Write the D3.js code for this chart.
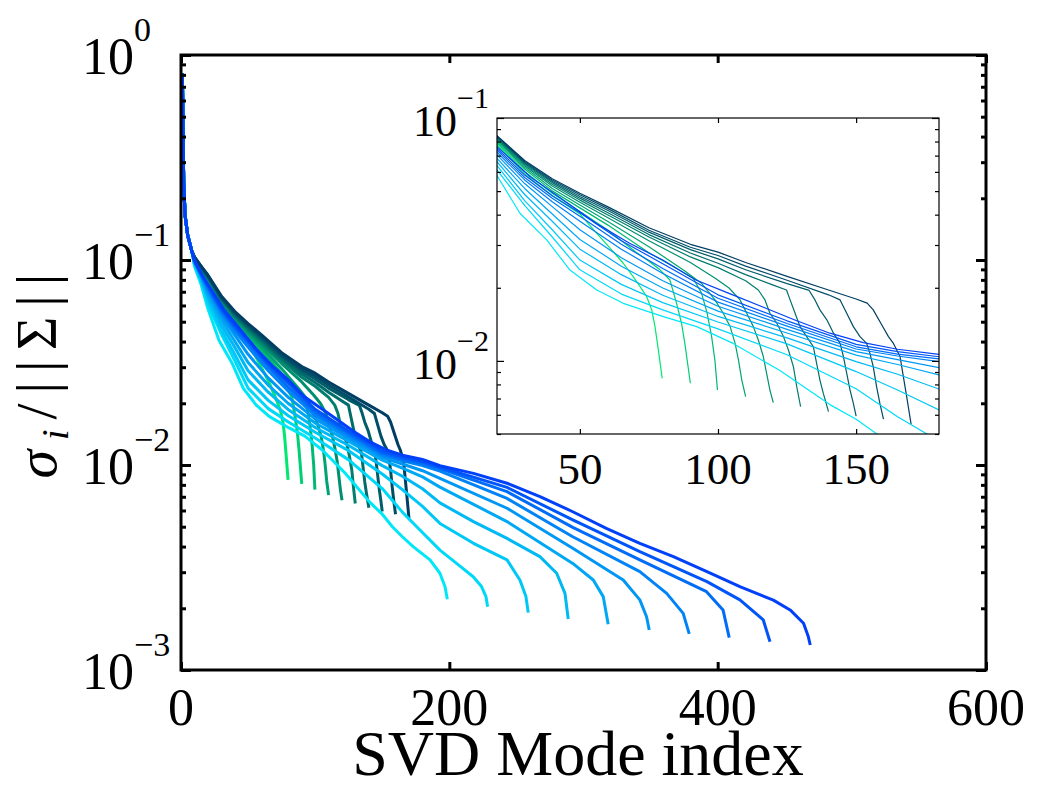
<!DOCTYPE html>
<html>
<head>
<meta charset="utf-8">
<script src="https://cdn.jsdelivr.net/npm/d3@7"></script>
<style>
  body { margin: 0; background: #fff; }
  text { font-family: "Liberation Serif", "Times New Roman", serif; fill: #000; }
</style>
</head>
<body>
<div id="chart"></div>
<script>
// tick values
var modeTicks = [0, 200, 400, 600];
var insetModeTicks = [50, 100, 150];
var decadeTicks = [1e-3, 1e-2, 1e-1, 1];
var insetDecades = [1e-2, 1e-1];

// all runs share the first few modes; values are log10(sigma_i/||Sigma||)
var headPoints = [[1, -0.09], [2, -0.62], [3, -0.78], [5, -0.88], [8, -0.955]];

// green/navy family, number of modes 80..170
var greenEnds = [80, 90, 100, 110, 120, 130, 140, 150, 160, 170];
var greenRuns = [
  [[10,-0.998],[15,-1.053],[20,-1.11],[30,-1.23],[40,-1.32],[50,-1.395],[55,-1.461],[61,-1.537],[65.7,-1.598],[69.3,-1.653],[71.8,-1.694],[74.2,-1.736],[76,-1.79],[77.2,-1.859],[78.4,-1.955],[79.8,-2.072]],
  [[10,-0.996],[15,-1.05],[20,-1.103],[30,-1.22],[40,-1.31],[50,-1.385],[60,-1.46],[70,-1.55],[75,-1.59],[79,-1.625],[82.6,-1.667],[85,-1.763],[86.8,-1.845],[88,-1.928],[89,-2.01],[90,-2.092]],
  [[10,-0.994],[15,-1.046],[20,-1.097],[30,-1.21],[40,-1.30],[50,-1.37],[60,-1.44],[75,-1.555],[85,-1.62],[91,-1.66],[94,-1.72],[96,-1.80],[97.7,-1.90],[98.9,-2.0],[99.8,-2.12]],
  [[10,-0.992],[15,-1.043],[20,-1.092],[30,-1.203],[40,-1.29],[50,-1.358],[60,-1.425],[75,-1.53],[88,-1.63],[94,-1.68],[98.9,-1.749],[101.9,-1.804],[104.4,-1.859],[106.2,-1.928],[107.4,-1.996],[108.6,-2.078],[110,-2.147]],
  [[10,-0.99],[15,-1.04],[20,-1.088],[30,-1.197],[40,-1.28],[50,-1.347],[60,-1.41],[75,-1.505],[90,-1.595],[99,-1.66],[104,-1.70],[108,-1.749],[110.4,-1.804],[112.8,-1.859],[114.6,-1.914],[116.4,-1.982],[117.6,-2.051],[118.8,-2.12],[120,-2.172]],
  [[10,-0.989],[15,-1.038],[20,-1.084],[30,-1.192],[40,-1.273],[50,-1.338],[60,-1.398],[75,-1.49],[90,-1.572],[100,-1.616],[110,-1.67],[114.6,-1.708],[117,-1.749],[118.8,-1.804],[121.3,-1.845],[123.7,-1.90],[125.5,-1.955],[127.3,-2.024],[128.5,-2.106],[129.9,-2.188]],
  [[10,-0.988],[15,-1.036],[20,-1.081],[30,-1.187],[40,-1.266],[50,-1.33],[60,-1.389],[75,-1.48],[90,-1.556],[100,-1.598],[110,-1.645],[120,-1.688],[124.8,-1.708],[126.1,-1.749],[127.9,-1.804],[129.7,-1.859],[132.1,-1.90],[134.5,-1.941],[135.7,-2.01],[136.9,-2.079],[138.1,-2.133],[140,-2.209]],
  [[10,-0.987],[15,-1.034],[20,-1.078],[30,-1.183],[40,-1.26],[50,-1.323],[60,-1.38],[75,-1.47],[90,-1.542],[100,-1.58],[110,-1.625],[125,-1.682],[133,-1.71],[135.1,-1.749],[136.9,-1.79],[139.4,-1.831],[141.8,-1.886],[144.2,-1.928],[145.4,-1.982],[146.6,-2.051],[147.8,-2.12],[149,-2.175],[150,-2.227]],
  [[10,-0.986],[15,-1.032],[20,-1.076],[30,-1.179],[40,-1.255],[50,-1.316],[60,-1.372],[75,-1.462],[90,-1.532],[100,-1.566],[110,-1.61],[125,-1.668],[140,-1.728],[144.2,-1.749],[146.6,-1.804],[149,-1.859],[151.4,-1.90],[153.8,-1.928],[155,-1.969],[156.2,-2.024],[157.4,-2.106],[158.6,-2.175],[159.9,-2.24]],
  [[10,-0.985],[15,-1.03],[20,-1.073],[30,-1.175],[40,-1.25],[50,-1.31],[60,-1.365],[75,-1.452],[90,-1.52],[100,-1.552],[110,-1.595],[125,-1.652],[140,-1.708],[150,-1.745],[154,-1.762],[156.2,-1.79],[159.3,-1.852],[161.7,-1.90],[163.5,-1.928],[165.9,-1.982],[167.1,-2.065],[168.3,-2.147],[169.9,-2.26]]
];

// cyan/blue family, number of modes 200..470
var blueEnds = [200, 230, 260, 290, 320, 350, 380, 410, 440, 470];
var blueRuns = [
  [[10,-1.03],[15,-1.12],[20,-1.237],[28.3,-1.392],[38,-1.502],[46.4,-1.626],[56.1,-1.708],[65.7,-1.763],[80.2,-1.818],[92.3,-1.859],[105.5,-1.928],[122.4,-2.04],[140.5,-2.18],[150,-2.24],[157.4,-2.30],[165,-2.35],[173,-2.398],[185.6,-2.463],[193,-2.528],[196.8,-2.594],[198.5,-2.655]],
  [[10,-1.018],[15,-1.105],[20,-1.214],[30,-1.36],[40,-1.49],[50,-1.625],[65,-1.725],[80,-1.79],[100,-1.868],[125,-1.975],[150,-2.115],[165,-2.23],[175.5,-2.30],[193,-2.415],[205.4,-2.48],[217.8,-2.545],[224,-2.593],[227.3,-2.642],[228.5,-2.691]],
  [[10,-1.015],[15,-1.095],[20,-1.196],[30,-1.34],[40,-1.46],[50,-1.585],[65,-1.685],[80,-1.76],[100,-1.84],[125,-1.93],[150,-2.044],[165,-2.12],[180,-2.202],[193,-2.285],[218,-2.382],[243,-2.463],[252.6,-2.561],[257.1,-2.642],[258.8,-2.72]],
  [[10,-1.012],[15,-1.088],[20,-1.18],[30,-1.315],[40,-1.425],[50,-1.54],[65,-1.645],[80,-1.73],[100,-1.817],[125,-1.905],[150,-2.003],[165,-2.055],[180,-2.116],[193,-2.185],[218,-2.276],[243,-2.358],[267.5,-2.447],[280,-2.528],[286.2,-2.626],[288.6,-2.751]],
  [[10,-1.01],[15,-1.082],[20,-1.166],[30,-1.29],[40,-1.395],[50,-1.50],[65,-1.61],[80,-1.70],[100,-1.795],[125,-1.885],[150,-1.976],[165,-2.015],[180,-2.058],[193,-2.108],[243,-2.276],[292,-2.48],[307.3,-2.561],[314.7,-2.642],[318.4,-2.777]],
  [[10,-1.008],[15,-1.077],[20,-1.152],[30,-1.27],[40,-1.365],[50,-1.46],[65,-1.575],[80,-1.67],[100,-1.775],[125,-1.87],[150,-1.962],[165,-1.995],[180,-2.028],[193,-2.065],[243,-2.211],[292,-2.406],[329.6,-2.561],[342,-2.658],[347,-2.74],[349,-2.805]],
  [[10,-1.006],[15,-1.073],[20,-1.141],[30,-1.255],[40,-1.345],[50,-1.425],[65,-1.54],[80,-1.64],[100,-1.758],[125,-1.857],[150,-1.951],[165,-1.98],[180,-2.003],[193,-2.03],[243,-2.163],[292,-2.35],[342,-2.52],[362,-2.626],[374.3,-2.724],[378.8,-2.824]],
  [[10,-1.004],[15,-1.07],[20,-1.132],[30,-1.245],[40,-1.33],[50,-1.405],[65,-1.52],[80,-1.62],[100,-1.742],[125,-1.846],[150,-1.942],[165,-1.972],[180,-1.992],[193,-2.018],[243,-2.13],[292,-2.304],[342,-2.463],[391.7,-2.618],[404,-2.707],[408.6,-2.842]],
  [[10,-1.002],[15,-1.068],[20,-1.125],[30,-1.235],[40,-1.32],[50,-1.39],[65,-1.505],[80,-1.60],[100,-1.728],[125,-1.835],[150,-1.932],[165,-1.962],[180,-1.983],[193,-2.01],[243,-2.109],[292,-2.268],[342,-2.423],[392,-2.569],[416.6,-2.658],[434,-2.756],[439,-2.862]],
  [[10,-1.0],[15,-1.065],[20,-1.118],[32,-1.242],[44,-1.338],[56,-1.434],[68,-1.516],[80,-1.585],[92,-1.667],[104,-1.722],[116,-1.777],[128.5,-1.835],[140.5,-1.886],[152.6,-1.925],[165,-1.952],[180,-1.973],[193,-2.003],[218,-2.041],[243,-2.089],[268,-2.155],[292,-2.228],[317,-2.309],[342,-2.382],[367,-2.447],[392,-2.52],[417,-2.594],[429,-2.626],[441.5,-2.659],[454,-2.707],[464,-2.772],[467.6,-2.838],[469,-2.878]]
];

var greenColors = ["#00e870", "#00d074", "#00b974", "#00a472", "#009070", "#007e6e", "#006d6c", "#005d6a", "#004d68", "#003e64"];
var blueColors = ["#00e8f8", "#00d8f8", "#00c8f6", "#00b8f4", "#00a8f4", "#0097f4", "#0083f6", "#006cf8", "#0055f8", "#0040f8"];

// layout
var W = 1037, H = 789;
var box = {left: 181, right: 986, top: 55, bottom: 670};
var ibox = {left: 497, right: 939, top: 118, bottom: 434};

var svg = d3.select("#chart").append("svg")
  .attr("width", W)
  .attr("height", H);
svg.append("rect").attr("width", W).attr("height", H).attr("fill", "#fff");

var x = d3.scaleLinear().domain([0, 600]).range([box.left, box.right]);
var y = d3.scaleLog().domain([1e-3, 1]).range([box.bottom, box.top]);
var xi = d3.scaleLinear().domain([20, 180]).range([ibox.left, ibox.right]);
var yi = d3.scaleLog().domain([5e-3, 1e-1]).range([ibox.bottom, ibox.top]);

var defs = svg.append("defs");
defs.append("clipPath").attr("id", "clipMain").append("rect")
  .attr("x", box.left).attr("y", box.top)
  .attr("width", box.right - box.left).attr("height", box.bottom - box.top);
defs.append("clipPath").attr("id", "clipInset").append("rect")
  .attr("x", ibox.left).attr("y", ibox.top)
  .attr("width", ibox.right - ibox.left).attr("height", ibox.bottom - ibox.top);

function isDecade(v) {
  var l = Math.log10(v);
  return Math.abs(l - Math.round(l)) < 1e-6;
}

function expText(v) {
  var e = Math.round(Math.log10(v));
  return e < 0 ? "\u2212" + (-e) : String(e);
}

function drawRuns(g, sx, sy, width) {
  var line = d3.line()
    .x(function(d) { return sx(d[0]); })
    .y(function(d) { return sy(Math.pow(10, d[1])); });
  greenRuns.forEach(function(run, i) {
    g.append("path")
      .attr("d", line(headPoints.concat(run)))
      .attr("fill", "none")
      .attr("stroke", greenColors[i])
      .attr("stroke-width", width)
      .attr("stroke-linejoin", "round");
  });
  blueRuns.forEach(function(run, i) {
    g.append("path")
      .attr("d", line(headPoints.concat(run)))
      .attr("fill", "none")
      .attr("stroke", blueColors[i])
      .attr("stroke-width", width)
      .attr("stroke-linejoin", "round");
  });
}

// tick marks drawn inward on all four sides
function boxTicks(b, sx, sy, xt, majorY, minorY, lenX, lenMaj, lenMin, sw) {
  var parts = [
    [d3.axisBottom(sx).tickValues(xt).tickSize(-lenX), "translate(0," + b.bottom + ")"],
    [d3.axisTop(sx).tickValues(xt).tickSize(-lenX), "translate(0," + b.top + ")"],
    [d3.axisLeft(sy).tickValues(majorY).tickSize(-lenMaj), "translate(" + b.left + ",0)"],
    [d3.axisRight(sy).tickValues(majorY).tickSize(-lenMaj), "translate(" + b.right + ",0)"],
    [d3.axisLeft(sy).tickValues(minorY).tickSize(-lenMin), "translate(" + b.left + ",0)"],
    [d3.axisRight(sy).tickValues(minorY).tickSize(-lenMin), "translate(" + b.right + ",0)"]
  ];
  parts.forEach(function(p) {
    var g = svg.append("g").attr("transform", p[1]).call(p[0].tickFormat(""));
    g.select(".domain").remove();
    g.selectAll(".tick line").attr("stroke", "#000").attr("stroke-width", sw);
    g.selectAll(".tick text").remove();
  });
  svg.append("rect")
    .attr("x", b.left).attr("y", b.top)
    .attr("width", b.right - b.left).attr("height", b.bottom - b.top)
    .attr("fill", "none").attr("stroke", "#000").attr("stroke-width", sw);
}

// main plot
drawRuns(svg.append("g").attr("clip-path", "url(#clipMain)"), x, y, 3);
var mainMinor = y.ticks().filter(function(v) { return !isDecade(v); });
boxTicks(box, x, y, modeTicks, decadeTicks, mainMinor, 8, 10, 5, 3);

modeTicks.forEach(function(v) {
  svg.append("text")
    .attr("x", x(v)).attr("y", 725)
    .attr("text-anchor", "middle")
    .attr("font-size", 52)
    .text(v);
});

decadeTicks.forEach(function(v) {
  var t = svg.append("text")
    .attr("x", 82).attr("y", y(v) + 19)
    .attr("font-size", 52);
  t.append("tspan").text("10");
  t.append("tspan").attr("dy", -33).attr("font-size", 34).text(expText(v));
});

svg.append("text")
  .attr("x", 578).attr("y", 775)
  .attr("text-anchor", "middle")
  .attr("font-size", 64)
  .text("SVD Mode index");

var ylab = svg.append("text")
  .attr("transform", "translate(56,376) rotate(-90)")
  .attr("text-anchor", "middle")
  .attr("font-size", 58)
  .attr("textLength", 205)
  .attr("lengthAdjust", "spacing");
ylab.append("tspan").attr("font-style", "italic").text("\u03c3");
ylab.append("tspan").attr("font-style", "italic").attr("font-size", 38).attr("dy", 12).text("i");
ylab.append("tspan").attr("dy", -12).text("/||\u03a3||");

// inset
svg.append("rect")
  .attr("x", ibox.left).attr("y", ibox.top)
  .attr("width", ibox.right - ibox.left).attr("height", ibox.bottom - ibox.top)
  .attr("fill", "#fff");
drawRuns(svg.append("g").attr("clip-path", "url(#clipInset)"), xi, yi, 1.2);
var insetMinor = yi.ticks().filter(function(v) { return !isDecade(v); });
boxTicks(ibox, xi, yi, insetModeTicks, insetDecades, insetMinor, 5, 7, 4, 1.2);

insetModeTicks.forEach(function(v) {
  svg.append("text")
    .attr("x", xi(v)).attr("y", 484)
    .attr("text-anchor", "middle")
    .attr("font-size", 45)
    .text(v);
});

insetDecades.forEach(function(v) {
  var t = svg.append("text")
    .attr("x", 413).attr("y", yi(v) + 18)
    .attr("font-size", 44);
  t.append("tspan").text("10");
  t.append("tspan").attr("dy", -28).attr("font-size", 30).text(expText(v));
});
</script>
</body>
</html>
